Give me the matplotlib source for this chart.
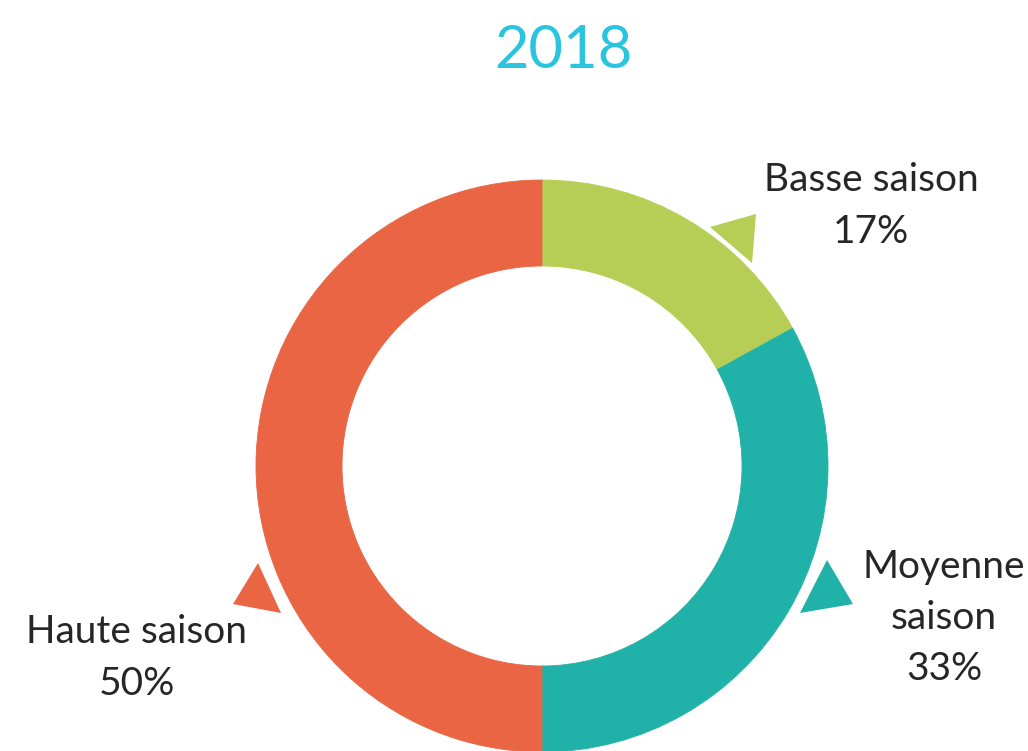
import matplotlib
matplotlib.use("Agg")
import matplotlib.pyplot as plt
from matplotlib.patches import Polygon, Circle

plt.rcParams['font.family'] = ['Lato', 'DejaVu Sans']

# Données
title = "2018"
categories = ["Basse saison", "Moyenne\nsaison", "Haute saison"]
values = [17, 33, 50]
colors = ["#B7CE56", "#20B2A8", "#E96544"]

W, H = 1028, 751
fig = plt.figure(figsize=(W / 100, H / 100), dpi=100)
ax = fig.add_axes([0, 0, 1, 1])

# anneau (coordonnées en pixels, y vers le haut)
cx, cy = 542, H - 466
R, ring = 286, 86

wedges, _ = ax.pie(values, colors=colors, startangle=90, counterclock=False,
                   center=(cx, cy), radius=R, frame=True,
                   wedgeprops=dict(width=ring, linewidth=0.6))
for w in wedges:
    w.set_edgecolor(w.get_facecolor())
    w.set_zorder(3)
ax.set_xlim(0, W)
ax.set_ylim(0, H)
ax.set_aspect("equal")
ax.axis("off")

# liseré blanc autour de l'anneau (sépare les pointeurs)
ax.add_patch(Circle((cx, cy), R + 1.5, fill=False, edgecolor="white",
                    linewidth=2.4, zorder=2.5))

# petits triangles des étiquettes
pointers = [
    [(710, 227), (756, 214), (752, 263)],
    [(827, 560), (853, 604), (800, 613)],
    [(258, 563), (233, 604), (281, 613)],
]
for pts, c in zip(pointers, colors):
    ax.add_patch(Polygon([(x, H - y) for x, y in pts], closed=True,
                         facecolor=c, edgecolor="none", zorder=2))

# étiquettes
label_pos = [(871, 206), (944, 618), (137, 658)]
for (x, y), cat, v in zip(label_pos, categories, values):
    ax.text(x, H - y, f"{cat}\n{v}%", ha="center", va="center",
            fontsize=28, color="#262626", linespacing=1.53, zorder=4)

ax.text(563, H - 51, title, ha="center", va="center", fontsize=43,
        color="#2BC4DE")

fig.savefig("out.png", dpi=100, facecolor="white")
